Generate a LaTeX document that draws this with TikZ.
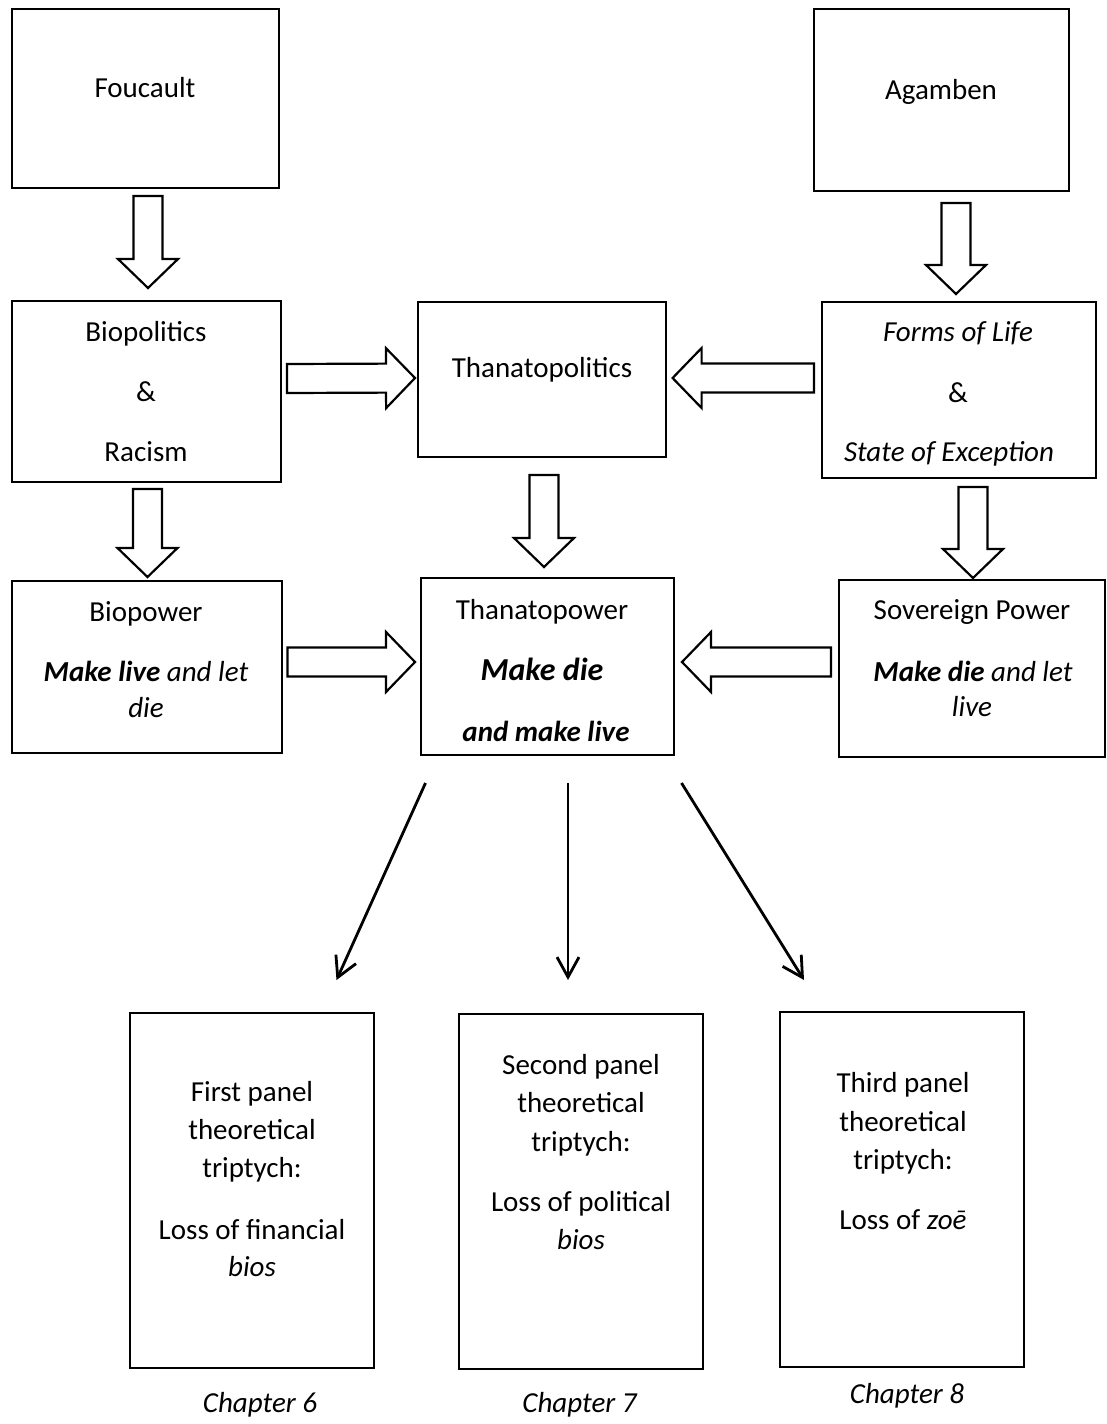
\documentclass[tikz,border=0pt]{standalone}
\usepackage{fontspec}
\setmainfont{Carlito}
\usetikzlibrary{calc,arrows.meta}

\tikzset{
  box/.style={draw, line width=2.9pt, rectangle, inner sep=0pt, outer sep=0pt},
  txt/.style={inner sep=0pt, outer sep=0pt, text height=18.7pt, text depth=0pt,
              font=\fontsize{29}{35}\selectfont},
  bigtxt/.style={txt, text height=20.6pt, font=\fontsize{32}{38}\selectfont},
  blockar/.style={draw, line width=2.2pt, fill=white, line join=miter},
  fanout/.style={line width=2.8pt, -{Straight Barb[length=20pt,width=22pt]}},
}

% hollow block arrow from #1 to the tip #2
\newcommand\blockarrow[2]{%
  \coordinate (ba-s) at #1;
  \coordinate (ba-t) at #2;
  \coordinate (ba-b) at ($(ba-t)!29pt!(ba-s)$);
  \draw[blockar]
    ($(ba-s)!14.5pt!90:(ba-t)$) -- ($(ba-b)!14.5pt!90:(ba-t)$) -- ($(ba-b)!30pt!90:(ba-t)$)
    -- (ba-t) -- ($(ba-b)!30pt!-90:(ba-t)$) -- ($(ba-b)!14.5pt!-90:(ba-t)$)
    -- ($(ba-s)!14.5pt!-90:(ba-t)$) -- cycle;
}

\begin{document}
\begin{tikzpicture}[x=1pt, y=-1pt]
  \fill[white] (0,0) rectangle (1107,1424);
  \useasboundingbox (0,0) rectangle (1107,1424);

  % ---- boxes ----
  \node[box, minimum width=267, minimum height=179] (foucault)  at (145.5, 98.5) {};
  \node[box, minimum width=255, minimum height=182] (agamben)   at (941.5, 100) {};
  \node[box, minimum width=269, minimum height=181] (biopol)    at (146.5, 391.5) {};
  \node[box, minimum width=248, minimum height=155] (thpol)     at (542, 379.5) {};
  \node[box, minimum width=274, minimum height=176] (forms)     at (959, 390) {};
  \node[box, minimum width=270, minimum height=172] (biopower)  at (147, 667) {};
  \node[box, minimum width=253, minimum height=177] (thpow)     at (547.5, 666.5) {};
  \node[box, minimum width=266, minimum height=177] (sovereign) at (972, 668.5) {};
  \node[box, minimum width=244, minimum height=355] (panel1)    at (252, 1190.5) {};
  \node[box, minimum width=244, minimum height=355] (panel2)    at (581, 1191.5) {};
  \node[box, minimum width=244, minimum height=355] (panel3)    at (902, 1189.5) {};

  % ---- texts ----
  \node[txt] (foucault-t) at (145, 88) {Foucault};
  \node[txt] (agamben-t)  at (941, 90) {Agamben};

  \node[txt] (biopol-1) at (146, 332) {Biopolitics};
  \node[txt] (biopol-2) at (146, 392) {\&};
  \node[txt] (biopol-3) at (146, 452) {Racism};

  \node[txt] (thpol-t) at (542, 368) {Thanatopolitics};

  \node[txt] (forms-1) at (958, 332) {\textit{Forms of Life}};
  \node[txt] (forms-2) at (958, 393) {\&};
  \node[txt] (forms-3) at (949, 452) {\textit{State of Exception}};

  \node[txt] (biopower-1) at (146, 612) {Biopower};
  \node[txt] (biopower-2) at (146, 672) {\textbf{\textit{Make live}} \textit{and let}};
  \node[txt] (biopower-3) at (146, 708) {\textit{die}};

  \node[txt]    (thpow-1) at (542, 610) {Thanatopower};
  \node[bigtxt] (thpow-2) at (542, 670) {\textbf{\textit{Make die}}};
  \node[txt]    (thpow-3) at (546, 732) {\textbf{\textit{and make live}}};

  \node[txt] (sov-1) at (972, 610) {Sovereign Power};
  \node[txt] (sov-2) at (973, 672) {\textbf{\textit{Make die}} \textit{and let}};
  \node[txt] (sov-3) at (972, 707) {\textit{live}};

  \node[txt] (p1-1) at (252, 1092) {First panel};
  \node[txt] (p1-2) at (252, 1130) {theoretical};
  \node[txt] (p1-3) at (252, 1168) {triptych:};
  \node[txt] (p1-4) at (252, 1230) {Loss of financial};
  \node[txt] (p1-5) at (252, 1267) {\textit{bios}};

  \node[txt] (p2-1) at (581, 1065) {Second panel};
  \node[txt] (p2-2) at (581, 1103) {theoretical};
  \node[txt] (p2-3) at (581, 1142) {triptych:};
  \node[txt] (p2-4) at (581, 1202) {Loss of political};
  \node[txt] (p2-5) at (581, 1240) {\textit{bios}};

  \node[txt] (p3-1) at (903, 1083) {Third panel};
  \node[txt] (p3-2) at (903, 1122) {theoretical};
  \node[txt] (p3-3) at (903, 1160) {triptych:};
  \node[txt] (p3-4) at (903, 1220) {Loss of \textit{zoē}};

  \node[txt] (ch6) at (260, 1403) {\textit{Chapter 6}};
  \node[txt] (ch7) at (580, 1403) {\textit{Chapter 7}};
  \node[txt] (ch8) at (907, 1394) {\textit{Chapter 8}};

  % ---- hollow block arrows ----
  \blockarrow{($(foucault.south)+(2.5,8)$)}{($(biopol.north)+(1.5,-13)$)}
  \blockarrow{($(agamben.south)+(14.5,12)$)}{($(forms.north)+(-3,-8)$)}
  \blockarrow{($(biopol.south)+(1,7)$)}{($(biopower.north)+(0.5,-4)$)}
  \blockarrow{($(thpol.south)+(2,18)$)}{($(thpow.north)+(-3.5,-11)$)}
  \blockarrow{($(forms.south)+(14,9)$)}{($(sovereign.north)+(1,-2)$)}
  \blockarrow{($(biopol.east)+(6,-13)$)}{($(thpol.west)+(-3,-1.5)$)}
  \blockarrow{($(forms.west)+(-8,-12)$)}{($(thpol.east)+(6.6,-1.5)$)}
  \blockarrow{($(biopower.east)+(5.5,-5)$)}{($(thpow.west)+(-6,-4.5)$)}
  \blockarrow{($(sovereign.west)+(-8,-6.5)$)}{($(thpow.east)+(8,-4.5)$)}

  % ---- thin arrows to the three panels ----
  \draw[fanout] ($(thpow.south)+(-122,28)$) -- ($(panel1.north)+(84.5,-33)$);
  \draw[fanout] ($(thpow.south)+(20.5,28)$) -- ($(panel2.north)+(-13,-34)$);
  \draw[fanout] ($(thpow.south)+(134,28)$) -- ($(panel3.north)+(-98,-32)$);
\end{tikzpicture}
\end{document}
